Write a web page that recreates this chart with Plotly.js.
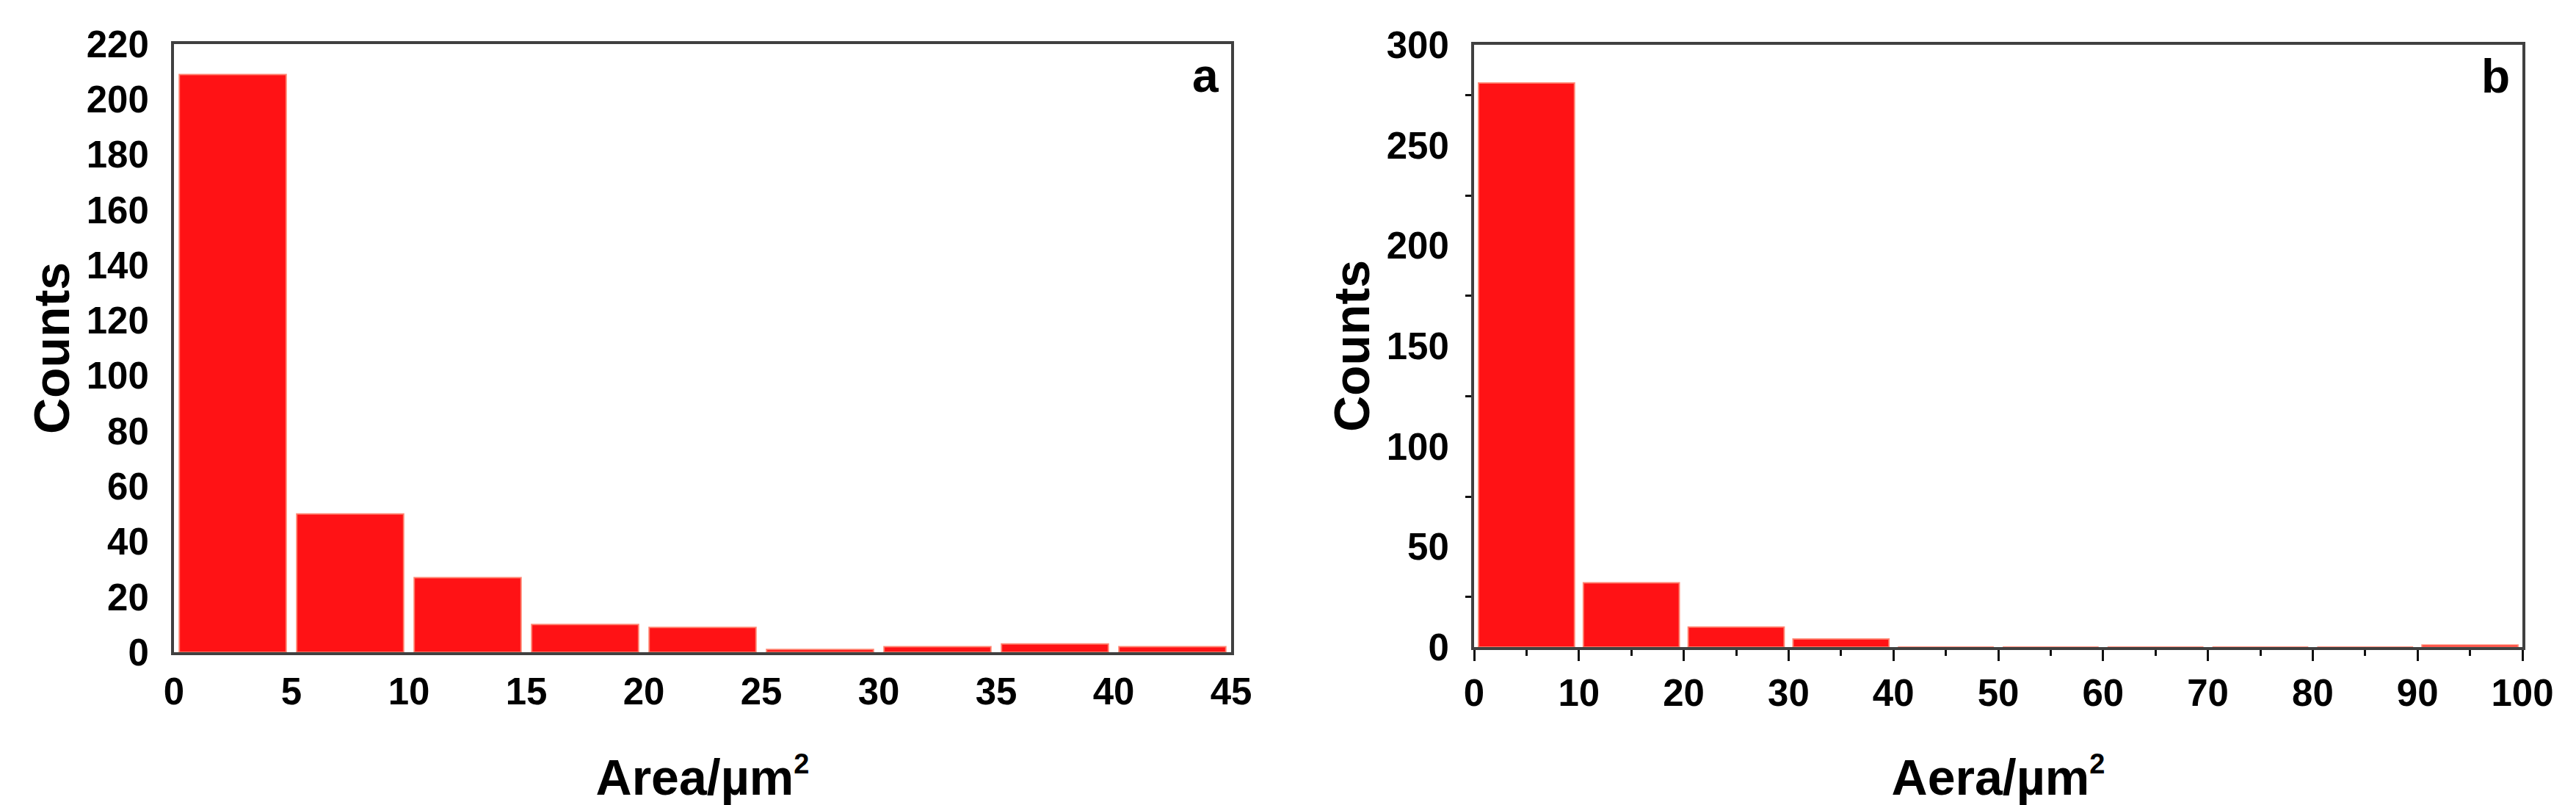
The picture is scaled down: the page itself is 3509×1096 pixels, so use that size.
<!DOCTYPE html>
<html>
<head>
<meta charset="utf-8">
<script src="https://cdn.plot.ly/plotly-3.0.1.min.js"></script>
<style>
  html, body { margin: 0; padding: 0; background: #ffffff; }
  #chart { width: 3509px; height: 1096px; }
</style>
</head>
<body>
<div id="chart"></div>
<script>
// ---- Data ----
// Panel a: bin edges (µm²) and counts
const binEdgesA = [0, 5, 10, 15, 20, 25, 30, 35, 40, 45];
const countsA   = [209, 50, 27, 10, 9, 1, 2, 3, 2];
const xTicksA   = [0, 5, 10, 15, 20, 25, 30, 35, 40, 45];
const yTicksA   = [0, 20, 40, 60, 80, 100, 120, 140, 160, 180, 200, 220];

// Panel b: bin edges (µm²) and counts
const binEdgesB = [0, 10, 20, 30, 40, 50, 60, 70, 80, 90, 100];
const countsB   = [281, 32, 10, 4, 0, 0, 0, 0, 0, 1];
const xTicksB   = [0, 10, 20, 30, 40, 50, 60, 70, 80, 90, 100];
const yTicksB   = [0, 50, 100, 150, 200, 250, 300];

const xTitleA = 'Area/µm<sup><span style="font-size:38px">2</span></sup>';
const xTitleB = 'Aera/µm<sup><span style="font-size:38px">2</span></sup>';
const yTitle  = 'Counts';
const panelLabels = ['a', 'b'];

// ---- helpers ----
function centres(edges) { return edges.slice(0, -1).map((e, i) => (e + edges[i + 1]) / 2); }
function widths(edges, gap) { return edges.slice(0, -1).map((e, i) => (edges[i + 1] - e) * (1 - gap)); }

const RED = 'rgb(255,18,21)';
const FRAME = '#404040';
const FONT = '"Liberation Sans", Arial, Helvetica, sans-serif';
const W = 3509, H = 1096;

const traceA = {
  type: 'bar', x: centres(binEdgesA), y: countsA, width: widths(binEdgesA, 0.09),
  marker: { color: RED, line: { color: 'rgba(255,130,110,0.9)', width: 2 } },
  xaxis: 'x', yaxis: 'y', hoverinfo: 'x+y'
};
const traceB = {
  type: 'bar', x: centres(binEdgesB), y: countsB, width: widths(binEdgesB, 0.085),
  marker: { color: RED, line: { color: 'rgba(255,130,110,0.9)', width: 2 } },
  xaxis: 'x2', yaxis: 'y2', hoverinfo: 'x+y'
};

const tickFont = { family: FONT, size: 51, color: '#000', weight: 700 };
const titleFont = { family: FONT, size: 68, color: '#000', weight: 700 };

const axBase = {
  showline: true, mirror: true, linecolor: FRAME, linewidth: 4,
  showgrid: false, zeroline: false, tickfont: tickFont, fixedrange: true
};

const layout = {
  width: W, height: H,
  margin: { l: 0, r: 0, t: 0, b: 0, pad: 0 },
  paper_bgcolor: '#ffffff', plot_bgcolor: '#ffffff',
  showlegend: false,
  font: { family: FONT },
  xaxis: Object.assign({}, axBase, {
    domain: [237 / W, 1677 / W], anchor: 'y', range: [0, 45],
    tickmode: 'array', tickvals: xTicksA, ticktext: xTicksA.map(String),
    ticks: 'outside', ticklen: 6, tickcolor: 'rgba(0,0,0,0)',
    title: { text: xTitleA, font: titleFont, standoff: 92 }
  }),
  yaxis: Object.assign({}, axBase, {
    domain: [1 - 888 / H, 1 - 60 / H], anchor: 'x', range: [0, 220],
    tickmode: 'array', tickvals: yTicksA, ticktext: yTicksA.map(String),
    ticks: 'outside', ticklen: 20, tickcolor: 'rgba(0,0,0,0)',
    title: { text: yTitle, font: titleFont, standoff: 2 }
  }),
  xaxis2: Object.assign({}, axBase, {
    domain: [2008 / W, 3436 / W], anchor: 'y2', range: [0, 100],
    tickmode: 'array', tickvals: xTicksB, ticktext: xTicksB.map(String),
    ticks: 'outside', ticklen: 15, tickwidth: 3, tickcolor: '#111',
    minor: { dtick: 5, ticks: 'outside', ticklen: 8, tickwidth: 3, tickcolor: '#111' },
    title: { text: xTitleB, font: titleFont, standoff: 84 }
  }),
  yaxis2: Object.assign({}, axBase, {
    domain: [1 - 881 / H, 1 - 61 / H], anchor: 'x2', range: [0, 300],
    tickmode: 'array', tickvals: yTicksB, ticktext: yTicksB.map(String),
    ticks: 'outside', ticklen: 20, tickcolor: 'rgba(0,0,0,0)',
    minor: { tickmode: 'linear', tick0: 25, dtick: 50, ticks: 'outside', ticklen: 8, tickwidth: 3, tickcolor: '#111' },
    title: { text: yTitle, font: titleFont, standoff: 2 }
  }),
  annotations: [
    { xref: 'x domain', yref: 'y domain', x: 1, y: 1, xanchor: 'right', yanchor: 'top',
      xshift: -15, yshift: -5, text: panelLabels[0], showarrow: false,
      font: { family: FONT, size: 64, color: '#000', weight: 700 } },
    { xref: 'x2 domain', yref: 'y2 domain', x: 1, y: 1, xanchor: 'right', yanchor: 'top',
      xshift: -15, yshift: -5, text: panelLabels[1], showarrow: false,
      font: { family: FONT, size: 64, color: '#000', weight: 700 } }
  ]
};

Plotly.newPlot('chart', [traceA, traceB], layout, { staticPlot: true, displayModeBar: false });
</script>
</body>
</html>
